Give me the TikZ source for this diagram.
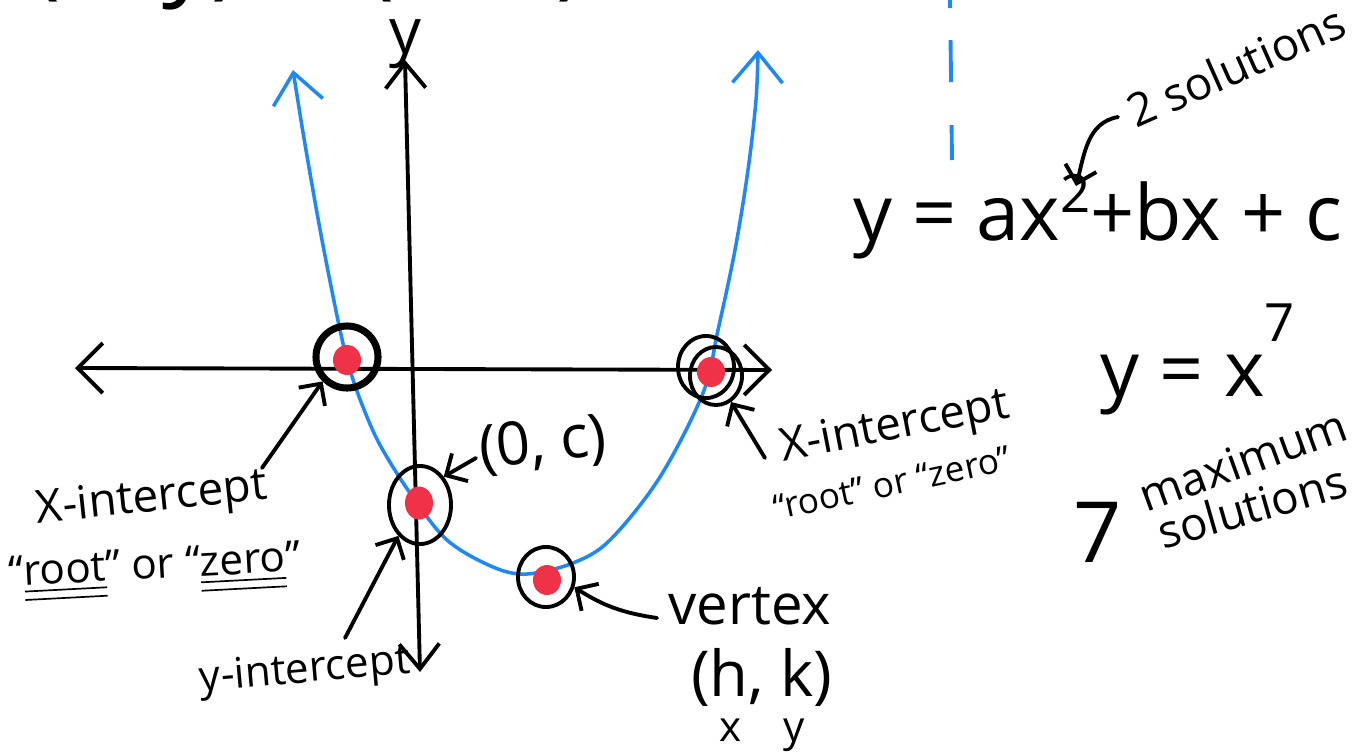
\documentclass[tikz,border=0pt]{standalone}
\usepackage{fontspec}
\setmainfont{Open Sans}
\usepackage{amsmath}
\usetikzlibrary{arrows.meta, positioning, shapes.geometric, calc}

\definecolor{curveblue}{RGB}{30,136,245}
\definecolor{dotred}{RGB}{240,50,72}

\newcommand{\fs}[1]{\fontsize{#1}{#1}\selectfont}

\begin{document}
\begin{tikzpicture}[
    x=0.01cm, y=-0.01cm,
    ink/.style={line width=1.1pt, line cap=round, line join=round},
    ring/.style={draw, ellipse, line width=1.1pt, inner sep=0pt},
    dot/.style={ellipse, fill=dotred, inner sep=0pt,
                minimum width=0.28cm, minimum height=0.3cm},
    lbl/.style={inner sep=1pt, font=\fs{13}},
    >={Straight Barb[length=1.6mm, width=3.2mm]}
  ]
  \useasboundingbox (0,0) rectangle (1363,751);
  \clip (0,0) rectangle (1363,751);

  % cut-off line at the top
  \node[anchor=base, font=\fs{28}] (topline) at (230,-14) {y = (x, y)\quad\ (h, k)};

  % axes
  \coordinate (xleft) at (75,368);
  \coordinate (xright) at (772,370);
  \coordinate (ytop) at (405,60);
  \coordinate (ybot) at (420,672);
  \draw[ink, {Straight Barb[length=2.5mm, width=5mm]}-{Straight Barb[length=2.5mm, width=5mm]}]
    (xleft) -- (xright);
  \draw[ink, {Straight Barb[length=2.5mm, width=4mm]}-{Straight Barb[length=2.5mm, width=4mm]}]
    (ytop) -- (ybot);
  \node[font=\fs{18}] (ylbl) at (405,44) {y};

  % parabola
  \draw[curveblue, line width=1pt, line cap=round,
        {Straight Barb[length=3mm, width=5mm]}-{Straight Barb[length=3mm, width=5mm]}]
    plot[smooth, tension=0.55] coordinates {(293,70) (306,150) (322,240) (340,330)
      (350,370) (363,407) (380,445) (410,493) (447,540) (493,567) (527,574)
      (573,563) (610,540) (660,477) (703,393) (718,330) (735,250) (748,170)
      (756,100) (758,50)};

  % dashed blue line on the right
  \draw[curveblue, line width=1.1pt, dash pattern=on 0.13cm off 0.32cm on 0.42cm off 0.43cm on 0.35cm off 2cm]
    (950,-5) -- (952,160);

  % points of interest
  \node[ring, line width=2pt, minimum width=0.62cm, minimum height=0.62cm] (rootL) at (347,357) {};
  \node[ring, minimum width=0.56cm, minimum height=0.62cm] (rootR) at (706,367) {};
  \node[ring, minimum width=0.52cm, minimum height=0.58cm] (rootRb) at (716,376) {};
  \node[ring, minimum width=0.62cm, minimum height=0.78cm] (yint) at (420,505) {};
  \node[ring, minimum width=0.56cm, minimum height=0.6cm] (vtx) at (546,577) {};
  \node[dot] (dotL) at (347,360) {};
  \node[dot] (dotR) at (711,372) {};
  \node[dot, minimum height=0.33cm] (dotY) at (419,503) {};
  \node[dot] (dotV) at (547,580) {};

  % labels, left
  \node[lbl, rotate=6] (xintL) at (152,500) {X-intercept};
  \node[lbl, font=\fs{12}, rotate=3] (rzL) at (155,572)
    {“$\underline{\underline{\text{root}}}$” or “$\underline{\underline{\text{zero}}}$”};
  \node[lbl, font=\fs{12}, rotate=5] (yintlbl) at (305,672) {y-intercept};
  \node[lbl, font=\fs{17}, rotate=6] (oclbl) at (543,445) {(0, c)};
  \node[lbl, font=\fs{16}] (vtxlbl) at (750,606) {vertex};
  \node[lbl, font=\fs{18}] (hklbl) at (762,677) {(h, k)};
  \node[lbl, font=\fs{12}] (xylbl) at (762,735) {x\quad y};

  % labels, right
  \node[lbl, rotate=11] (xintR) at (895,428) {X-intercept};
  \node[lbl, font=\fs{10}, rotate=12] (rzR) at (892,483) {“root” or “zero”};
  \node[lbl, rotate=24] (sol2) at (1236,66) {2 solutions};
  \node[lbl, anchor=base, font=\fs{22}] (quad) at (1098,240)
    {y = ax\raisebox{0.35em}{\fs{15}2}+bx + c};
  \node[lbl, anchor=base, font=\fs{22}] (sept) at (1198,396)
    {y = x\raisebox{0.7em}{\fs{15}7}};
  \node[lbl, rotate=20] (maxlbl) at (1243,460) {maximum};
  \node[lbl, rotate=16] (sol7) at (1252,506) {solutions};
  \node[lbl, font=\fs{24}] (seven) at (1098,532) {7};

  % pointers
  \coordinate (xintLtip) at (262,468);
  \coordinate (octail) at (476,458);
  \coordinate (yinttail) at (345,638);
  \coordinate (vtxtail) at (657,618);
  \coordinate (xintRtail) at (765,458);
  \coordinate (sol2tail) at (1118,117);
  \coordinate (sol2head) at (1076,186);
  \draw[ink, ->] (xintLtip) -- (rootL.225);
  \draw[ink, ->] (octail) -- (yint.50);
  \draw[ink, ->] (yinttail) -- (yint.235);
  \draw[ink, ->] (vtxtail) to[bend left=12] (vtx.-20);
  \draw[ink, ->] (xintRtail) -- (rootRb.-60);
  \draw[ink, ->] (sol2tail) to[out=190, in=75] (sol2head);
\end{tikzpicture}
\end{document}
